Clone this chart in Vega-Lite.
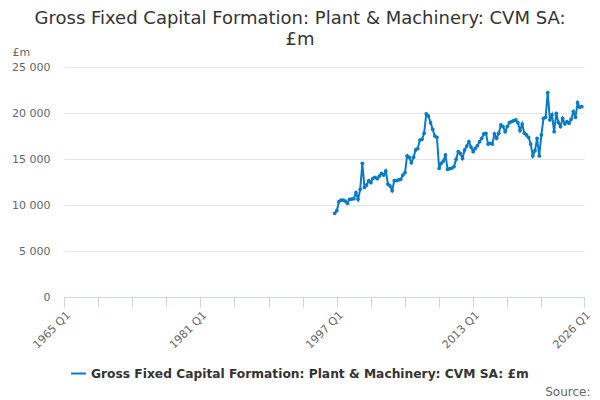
{
  "$schema": "https://vega.github.io/schema/vega-lite/v6.json",
  "autosize": "none",
  "width": 520,
  "height": 230,
  "padding": {"left": 64, "top": 67, "right": 16, "bottom": 103},
  "background": "white",
  "title": {
    "text": ["Gross Fixed Capital Formation: Plant & Machinery: CVM SA:", "£m"],
    "font": "DejaVu Sans",
    "fontSize": 18,
    "fontWeight": "normal",
    "color": "#333333",
    "anchor": "middle",
    "lineHeight": 21,
    "dx": -24,
    "offset": -3
  },
  "data": {
    "values": [
      {"date": "1996-10-01", "value": 9100},
      {"date": "1997-01-01", "value": 9380},
      {"date": "1997-04-01", "value": 10360},
      {"date": "1997-07-01", "value": 10540},
      {"date": "1997-10-01", "value": 10540},
      {"date": "1998-01-01", "value": 10430},
      {"date": "1998-04-01", "value": 10180},
      {"date": "1998-07-01", "value": 10620},
      {"date": "1998-10-01", "value": 10650},
      {"date": "1999-01-01", "value": 10690},
      {"date": "1999-04-01", "value": 11340},
      {"date": "1999-07-01", "value": 10620},
      {"date": "1999-10-01", "value": 11700},
      {"date": "2000-01-01", "value": 14530},
      {"date": "2000-04-01", "value": 11920},
      {"date": "2000-07-01", "value": 12170},
      {"date": "2000-10-01", "value": 12650},
      {"date": "2001-01-01", "value": 12430},
      {"date": "2001-04-01", "value": 12900},
      {"date": "2001-07-01", "value": 13010},
      {"date": "2001-10-01", "value": 12860},
      {"date": "2002-01-01", "value": 13150},
      {"date": "2002-04-01", "value": 13440},
      {"date": "2002-07-01", "value": 13260},
      {"date": "2002-10-01", "value": 13700},
      {"date": "2003-01-01", "value": 12280},
      {"date": "2003-04-01", "value": 12070},
      {"date": "2003-07-01", "value": 11560},
      {"date": "2003-10-01", "value": 12650},
      {"date": "2004-01-01", "value": 12650},
      {"date": "2004-04-01", "value": 12720},
      {"date": "2004-07-01", "value": 12790},
      {"date": "2004-10-01", "value": 13260},
      {"date": "2005-01-01", "value": 13510},
      {"date": "2005-04-01", "value": 15330},
      {"date": "2005-07-01", "value": 15180},
      {"date": "2005-10-01", "value": 14600},
      {"date": "2006-01-01", "value": 15180},
      {"date": "2006-04-01", "value": 15980},
      {"date": "2006-07-01", "value": 16120},
      {"date": "2006-10-01", "value": 17060},
      {"date": "2007-01-01", "value": 17140},
      {"date": "2007-04-01", "value": 17790},
      {"date": "2007-07-01", "value": 19900},
      {"date": "2007-10-01", "value": 19680},
      {"date": "2008-01-01", "value": 18950},
      {"date": "2008-04-01", "value": 18230},
      {"date": "2008-07-01", "value": 17500},
      {"date": "2008-10-01", "value": 17360},
      {"date": "2009-01-01", "value": 13990},
      {"date": "2009-04-01", "value": 14530},
      {"date": "2009-07-01", "value": 14780},
      {"date": "2009-10-01", "value": 15440},
      {"date": "2010-01-01", "value": 13880},
      {"date": "2010-04-01", "value": 13950},
      {"date": "2010-07-01", "value": 14020},
      {"date": "2010-10-01", "value": 14170},
      {"date": "2011-01-01", "value": 14960},
      {"date": "2011-04-01", "value": 15800},
      {"date": "2011-07-01", "value": 15620},
      {"date": "2011-10-01", "value": 15070},
      {"date": "2012-01-01", "value": 15980},
      {"date": "2012-04-01", "value": 16410},
      {"date": "2012-07-01", "value": 16900},
      {"date": "2012-10-01", "value": 16300},
      {"date": "2013-01-01", "value": 15800},
      {"date": "2013-04-01", "value": 16160},
      {"date": "2013-07-01", "value": 16450},
      {"date": "2013-10-01", "value": 16880},
      {"date": "2014-01-01", "value": 17250},
      {"date": "2014-04-01", "value": 17720},
      {"date": "2014-07-01", "value": 17790},
      {"date": "2014-10-01", "value": 16630},
      {"date": "2015-01-01", "value": 16700},
      {"date": "2015-04-01", "value": 16630},
      {"date": "2015-07-01", "value": 17720},
      {"date": "2015-10-01", "value": 17250},
      {"date": "2016-01-01", "value": 17790},
      {"date": "2016-04-01", "value": 18700},
      {"date": "2016-07-01", "value": 18520},
      {"date": "2016-10-01", "value": 17970},
      {"date": "2017-01-01", "value": 18520},
      {"date": "2017-04-01", "value": 18950},
      {"date": "2017-07-01", "value": 19060},
      {"date": "2017-10-01", "value": 19170},
      {"date": "2018-01-01", "value": 19240},
      {"date": "2018-04-01", "value": 18950},
      {"date": "2018-07-01", "value": 18100},
      {"date": "2018-10-01", "value": 18800},
      {"date": "2019-01-01", "value": 17800},
      {"date": "2019-04-01", "value": 17610},
      {"date": "2019-07-01", "value": 17360},
      {"date": "2019-10-01", "value": 16630},
      {"date": "2020-01-01", "value": 15330},
      {"date": "2020-04-01", "value": 15910},
      {"date": "2020-07-01", "value": 17250},
      {"date": "2020-10-01", "value": 15330},
      {"date": "2021-01-01", "value": 17610},
      {"date": "2021-04-01", "value": 19420},
      {"date": "2021-07-01", "value": 19530},
      {"date": "2021-10-01", "value": 22210},
      {"date": "2022-01-01", "value": 19240},
      {"date": "2022-04-01", "value": 19790},
      {"date": "2022-07-01", "value": 17970},
      {"date": "2022-10-01", "value": 19970},
      {"date": "2023-01-01", "value": 18950},
      {"date": "2023-04-01", "value": 18520},
      {"date": "2023-07-01", "value": 19420},
      {"date": "2023-10-01", "value": 18810},
      {"date": "2024-01-01", "value": 19060},
      {"date": "2024-04-01", "value": 18880},
      {"date": "2024-07-01", "value": 19310},
      {"date": "2024-10-01", "value": 20150},
      {"date": "2025-01-01", "value": 19530},
      {"date": "2025-04-01", "value": 21120},
      {"date": "2025-07-01", "value": 20620},
      {"date": "2025-10-01", "value": 20700}
    ]
  },
  "mark": {
    "type": "line",
    "strokeWidth": 2,
    "point": {"filled": true, "size": 14}
  },
  "encoding": {
    "x": {
      "field": "date",
      "type": "temporal",
      "scale": {
        "type": "utc",
        "domain": [
          {"year": 1965, "month": 1, "date": 1, "utc": true},
          {"year": 2026, "month": 1, "date": 1, "utc": true}
        ]
      },
      "axis": {
        "values": [
          {"year": 1965, "month": 1, "date": 1, "utc": true},
          {"year": 1969, "month": 1, "date": 1, "utc": true},
          {"year": 1973, "month": 1, "date": 1, "utc": true},
          {"year": 1977, "month": 1, "date": 1, "utc": true},
          {"year": 1981, "month": 1, "date": 1, "utc": true},
          {"year": 1985, "month": 1, "date": 1, "utc": true},
          {"year": 1989, "month": 1, "date": 1, "utc": true},
          {"year": 1993, "month": 1, "date": 1, "utc": true},
          {"year": 1997, "month": 1, "date": 1, "utc": true},
          {"year": 2001, "month": 1, "date": 1, "utc": true},
          {"year": 2005, "month": 1, "date": 1, "utc": true},
          {"year": 2009, "month": 1, "date": 1, "utc": true},
          {"year": 2013, "month": 1, "date": 1, "utc": true},
          {"year": 2017, "month": 1, "date": 1, "utc": true},
          {"year": 2021, "month": 1, "date": 1, "utc": true},
          {"year": 2026, "month": 1, "date": 1, "utc": true}
        ],
        "labelExpr": "indexof([1965, 1981, 1997, 2013, 2026], utcyear(datum.value)) >= 0 ? utcyear(datum.value) + ' Q1' : ''",
        "labelAngle": -45,
        "labelAlign": "right",
        "labelBaseline": "top",
        "labelFlush": false,
        "labelOverlap": false,
        "labelColor": "#666666",
        "labelFontSize": 11,
        "labelPadding": 2,
        "tickColor": "#ccd6eb",
        "tickSize": 10,
        "domainColor": "#ccd6eb",
        "grid": false,
        "title": "Source:",
        "titleX": 526,
        "titleY": 94,
        "titleAlign": "right",
        "titleBaseline": "middle",
        "titleColor": "#666666",
        "titleFontSize": 12,
        "titleFontWeight": "normal"
      }
    },
    "y": {
      "field": "value",
      "type": "quantitative",
      "scale": {"domain": [0, 25000]},
      "axis": {
        "values": [0, 5000, 10000, 15000, 20000, 25000],
        "labelExpr": "replace(format(datum.value, ','), ',', ' ')",
        "labelColor": "#666666",
        "labelFontSize": 11,
        "labelPadding": 14,
        "domain": false,
        "ticks": false,
        "gridColor": "#e6e6e6",
        "title": "£m",
        "titleAngle": 0,
        "titleX": -52,
        "titleY": -15,
        "titleAlign": "left",
        "titleBaseline": "middle",
        "titleColor": "#666666",
        "titleFontSize": 11,
        "titleFontWeight": "normal"
      }
    },
    "color": {
      "datum": "Gross Fixed Capital Formation: Plant & Machinery: CVM SA: £m",
      "scale": {"range": ["#0a7ac4"]},
      "legend": {
        "title": null,
        "orient": "none",
        "legendX": 6,
        "legendY": 298,
        "symbolType": "stroke",
        "symbolStrokeWidth": 2,
        "symbolSize": 220,
        "labelFont": "DejaVu Sans",
        "labelFontWeight": "bold",
        "labelFontSize": 12.25,
        "labelColor": "#333333",
        "labelLimit": 600
      }
    }
  },
  "config": {
    "font": "DejaVu Sans",
    "view": {"stroke": null}
  }
}
